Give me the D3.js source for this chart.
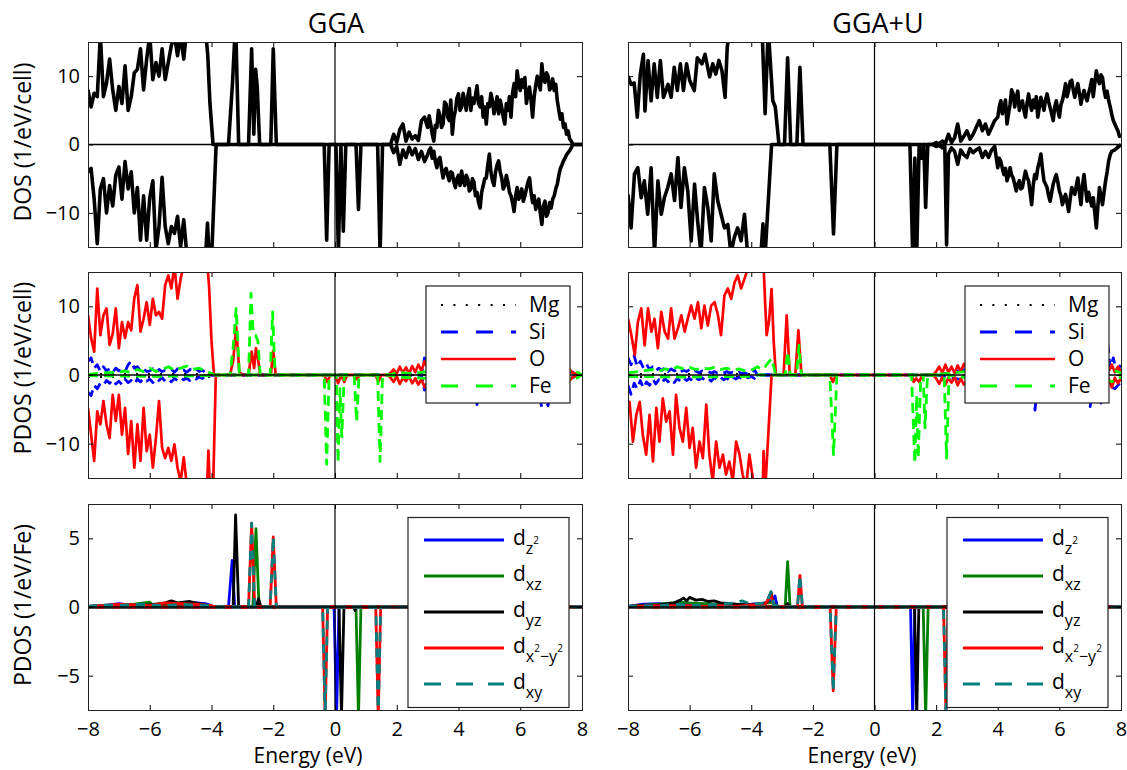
<!DOCTYPE html>
<html>
<head>
<meta charset="utf-8">
<script src="https://cdn.jsdelivr.net/npm/d3@7"></script>
<style>
body { margin: 0; background: #fff; }
text { font-family: "Open Sans", sans-serif; fill: #000; }
</style>
</head>
<body>
<svg id="chart" width="1127" height="770"></svg>
<script>
// ---- data: [energy (eV), density] ----

// total DOS, GGA
var gga_dos_up = [[-8.0,8],[-7.9,5.5],[-7.8,7.5],[-7.7,7],[-7.6,16],[-7.5,7],[-7.4,9],[-7.3,12.5],[-7.2,8],[-7.1,5],[-7.0,8.5],[-6.9,6],[-6.8,11.5],[-6.7,5],[-6.6,7],[-6.5,10.5],[-6.4,11],[-6.3,14],[-6.2,8],[-6.1,12.5],[-6.0,16],[-5.9,9.5],[-5.8,12],[-5.7,10],[-5.6,14],[-5.5,9.5],[-5.4,12],[-5.3,14.5],[-5.2,16],[-5.1,13],[-5.0,16],[-4.9,12.5],[-4.8,17],[-4.2,17],[-4.12,13],[-4.05,6],[-3.95,0],
  [-3.45,0],[-3.32,9],[-3.22,18],[-3.12,0],[-2.8,0],[-2.7,14],[-2.63,1.5],[-2.57,11],[-2.52,8.5],[-2.44,0],[-2.08,0],[-2.0,14],[-1.9,0],[1.8,0],
  [1.9,1.5],[2.0,0.3],[2.1,2.2],[2.2,3],[2.3,0.5],[2.4,1.8],[2.5,0.8],[2.6,1.3],[2.7,0.6],[2.8,3.5],[2.9,4],
  [3.0,2.5],[3.05,4.2],[3.1,3],[3.15,1.5],[3.2,0.5],[3.25,2.8],[3.3,2.5],[3.35,5],[3.4,4.2],[3.45,2.5],[3.5,3],[3.55,6.2],[3.6,5.9],[3.65,4],[3.7,3.5],[3.75,6.5],[3.8,1.5],[3.85,4],[3.9,5],[3.95,6.8],[4.0,7.4],[4.05,5],[4.1,5.5],[4.15,7.5],[4.2,6.4],[4.25,5],[4.3,7],[4.35,8.2],[4.4,5],[4.45,6.8],[4.5,6],[4.55,7.2],[4.6,8.6],[4.65,6],[4.7,5.5],[4.75,7],[4.8,4],[4.85,5.5],[4.9,3],[4.95,6],[5.0,5.5],[5.05,7.5],[5.1,6.4],[5.15,4.5],[5.2,5.5],[5.25,7],[5.3,4.5],[5.35,6.5],[5.4,5.4],[5.45,4],[5.5,3],[5.55,6],[5.6,5],[5.65,7],[5.7,4],[5.75,7.5],[5.8,8.9],[5.85,7],[5.9,10.8],[5.95,9],[6.0,7.9],[6.05,9.5],[6.1,8.4],[6.15,9.8],[6.2,6],[6.25,7.5],[6.3,8.4],[6.35,6.5],[6.4,4],[6.45,7],[6.5,8.6],[6.55,10],[6.6,9],[6.65,8],[6.7,11.8],[6.75,9.5],[6.8,9.1],[6.85,10.5],[6.9,10],[6.95,8],[7.0,8.4],[7.05,9.6],[7.1,7.9],[7.15,8.8],[7.2,6.4],[7.25,5],[7.3,3.7],[7.35,4.5],[7.4,2.5],[7.45,3],[7.5,1.5],[7.55,2],[7.6,0.8],[7.65,0.5],[7.7,0],[8.0,0]];
var gga_dos_dn = [[-8.0,-4],[-7.9,-3.5],[-7.8,-8],[-7.7,-14.5],[-7.6,-6.5],[-7.5,-5],[-7.4,-10],[-7.3,-6],[-7.2,-9],[-7.1,-4.5],[-7.0,-3.3],[-6.9,-8],[-6.8,-2.5],[-6.7,-6.5],[-6.6,-4],[-6.5,-10],[-6.4,-6.3],[-6.3,-14],[-6.2,-7.5],[-6.1,-14],[-6.0,-7.8],[-5.9,-5.3],[-5.8,-15.5],[-5.7,-12],[-5.6,-4.8],[-5.5,-12],[-5.4,-14.5],[-5.3,-12],[-5.2,-13],[-5.1,-10.5],[-5.0,-15],[-4.9,-11],[-4.8,-16],[-4.2,-17],[-4.13,-11.5],[-4.07,-17],[-4.0,-17],[-3.85,0],
  [-0.35,0],[-0.27,-14],[-0.19,0],[0.03,0],[0.11,-16],[0.19,0],[0.27,-12.7],[0.35,0],[0.68,0],[0.76,-9.5],[0.84,0],[1.38,0],[1.46,-16],[1.54,0],[1.8,0],
  [1.9,-1.2],[2.0,-0.3],[2.1,-2.9],[2.2,-0.8],[2.3,-1.9],[2.4,-0.4],[2.5,-1.5],[2.6,-0.6],[2.7,-2.2],[2.8,-1.0],[2.9,-2.5],
  [3.0,-1.5],[3.05,-0.8],[3.1,-0.5],[3.15,-2],[3.2,-1.0],[3.25,-2.5],[3.3,-3.4],[3.35,-2.2],[3.4,-1.9],[3.45,-3.5],[3.5,-4.9],[3.55,-3.8],[3.6,-3.5],[3.65,-4.5],[3.7,-5.3],[3.75,-4],[3.8,-4.2],[3.85,-5.5],[3.9,-6.3],[3.95,-5],[4.0,-4.5],[4.05,-6],[4.1,-3.9],[4.15,-5.2],[4.2,-6],[4.25,-4.5],[4.3,-5],[4.35,-6.8],[4.4,-6.5],[4.45,-5],[4.5,-5.5],[4.55,-7.5],[4.6,-7],[4.65,-8.5],[4.7,-9.3],[4.75,-7],[4.8,-6],[4.85,-5],[4.9,-4.9],[4.95,-3],[5.0,-1.4],[5.05,-4],[5.1,-5.3],[5.15,-6],[5.2,-4],[5.25,-3],[5.3,-2.4],[5.35,-4],[5.4,-4.9],[5.45,-6.5],[5.5,-6],[5.55,-4.5],[5.6,-5.5],[5.65,-7],[5.7,-7.5],[5.75,-8.5],[5.8,-9.8],[5.85,-7.5],[5.9,-6.3],[5.95,-8],[6.0,-7.5],[6.05,-6.5],[6.1,-8.3],[6.15,-7.5],[6.2,-6.5],[6.25,-5.5],[6.3,-4.9],[6.35,-7],[6.4,-8.5],[6.45,-7.5],[6.5,-9.5],[6.55,-8.5],[6.6,-8],[6.65,-10],[6.7,-11.7],[6.75,-9],[6.8,-8.3],[6.85,-10.5],[6.9,-10],[6.95,-8.5],[7.0,-9.3],[7.05,-8],[7.1,-7.5],[7.15,-6.5],[7.2,-5.8],[7.25,-4.5],[7.3,-3.5],[7.35,-3],[7.4,-2.4],[7.45,-2],[7.5,-1.5],[7.55,-1.2],[7.6,-0.9],[7.65,-0.5],[7.7,0],[8.0,0]];

// total DOS, GGA+U
var ggau_dos_up = [[-8.0,10],[-7.9,8.8],[-7.8,9],[-7.7,4],[-7.6,10.3],[-7.5,13.2],[-7.45,4.9],[-7.35,12.3],[-7.25,6.4],[-7.15,11.8],[-7.05,6.9],[-6.95,12.3],[-6.85,6.9],[-6.7,8.8],[-6.6,6.9],[-6.5,11.3],[-6.4,7.9],[-6.3,11.8],[-6.2,7.9],[-6.1,11.8],[-6.0,9.4],[-5.85,7.9],[-5.75,12.7],[-5.6,11.8],[-5.5,13.2],[-5.35,9.9],[-5.25,11.8],[-5.15,10.3],[-5.05,12.3],[-4.95,10.8],[-4.85,6.9],[-4.78,14.2],[-4.7,17],[-3.65,17],[-3.55,4.5],[-3.45,17],[-3.3,6.4],[-3.22,5.5],[-3.1,0],[-2.92,0],[-2.82,12.7],[-2.72,0],[-2.52,0],[-2.42,11.3],[-2.32,0],[1.9,0],
  [2.0,0.3],[2.1,0.1],[2.2,0.5],[2.3,0.2],[2.4,1.5],[2.5,0.3],[2.6,1],[2.7,3],[2.8,0.5],[2.9,1.2],[3.0,2],[3.1,0.8],[3.2,1.5],[3.3,2.5],[3.4,3.5],[3.5,2],[3.6,3],[3.7,1.5],[3.8,2.5],[3.9,3.5],
  [4.0,4],[4.05,5.5],[4.1,6.4],[4.15,4.5],[4.2,5.4],[4.25,6.5],[4.3,3],[4.35,4.5],[4.4,5.9],[4.45,8],[4.5,7.4],[4.55,5.5],[4.6,6.9],[4.65,7.8],[4.7,5],[4.75,6],[4.8,6.4],[4.85,5],[4.9,4],[4.95,6],[5.0,7.4],[5.05,6],[5.1,5],[5.15,6.5],[5.2,5.4],[5.25,7],[5.3,4],[5.35,5.5],[5.4,6.9],[5.45,6],[5.5,5],[5.55,6.5],[5.6,7.4],[5.65,6.3],[5.7,5.4],[5.75,4.5],[5.8,3.5],[5.85,5.5],[5.9,6.4],[5.95,5],[6.0,4],[6.05,5.8],[6.1,6.5],[6.15,7.5],[6.2,8.9],[6.25,7],[6.3,7.9],[6.35,9.2],[6.4,9.4],[6.45,8],[6.5,6.9],[6.55,8],[6.6,8.9],[6.65,7.5],[6.7,5.9],[6.75,7],[6.8,7.9],[6.85,7],[6.9,6.4],[6.95,7.5],[7.0,8.4],[7.05,9.5],[7.1,7],[7.15,9],[7.2,10.8],[7.25,9.5],[7.3,8.9],[7.35,10.2],[7.4,9.8],[7.45,8],[7.5,6.9],[7.55,7.8],[7.6,6.4],[7.65,5.5],[7.7,4.4],[7.75,3.5],[7.8,3],[7.85,2.5],[7.9,2],[7.95,1.2],[8.0,1.5]];
var ggau_dos_dn = [[-8.0,-7.3],[-7.9,-12.2],[-7.79,-4.3],[-7.68,-3.4],[-7.57,-7.8],[-7.47,-5.3],[-7.36,-10.2],[-7.25,-3.4],[-7.14,-16],[-7.03,-5.3],[-6.92,-10.2],[-6.82,-7.8],[-6.71,-6.3],[-6.6,-4.3],[-6.49,-8.2],[-6.38,-1.9],[-6.28,-9.2],[-6.17,-3.4],[-6.06,-6.8],[-5.95,-14.1],[-5.84,-5.8],[-5.74,-11.2],[-5.63,-16],[-5.52,-6.3],[-5.41,-9.2],[-5.3,-14.1],[-5.2,-4.3],[-5.09,-8.2],[-4.98,-10.2],[-4.87,-12.2],[-4.76,-11.7],[-4.66,-16],[-4.55,-13.6],[-4.44,-12.2],[-4.33,-14.1],[-4.22,-10.2],[-4.12,-16],[-3.7,-17],[-3.62,-11.6],[-3.56,-17],[-3.34,0],
  [-1.45,0],[-1.33,-13.1],[-1.22,0],[1.15,0],[1.24,-16],[1.31,-2],[1.37,-16],[1.45,0],[1.53,-2],[1.6,0],[1.66,-9.2],[1.73,0],[1.9,0],
  [2.0,-0.3],[2.1,-0.1],[2.2,-0.5],[2.28,0],[2.34,-14.7],[2.4,-1.4],[2.5,-0.5],[2.6,-1],[2.7,-2.9],[2.8,-0.8],[2.9,-1.5],[3.0,-1.9],[3.1,-0.6],[3.2,-1.2],[3.3,-0.8],[3.4,-0.5],[3.5,-1.9],[3.6,-1],[3.7,-1.9],[3.8,-0.8],[3.9,-0.3],
  [4.0,-3.4],[4.05,-2],[4.1,-2.5],[4.15,-3.5],[4.2,-4.4],[4.25,-3.5],[4.3,-5.3],[4.35,-4.5],[4.4,-3.4],[4.45,-4.5],[4.5,-4.9],[4.55,-5.8],[4.6,-6.8],[4.65,-5.8],[4.7,-5.3],[4.75,-6.5],[4.8,-6.3],[4.85,-5],[4.9,-3.9],[4.95,-4.8],[5.0,-5.3],[5.05,-7],[5.1,-8.8],[5.15,-6],[5.2,-4.4],[5.25,-5],[5.3,-3.4],[5.35,-2.5],[5.4,-1.4],[5.45,-3.5],[5.5,-5.3],[5.55,-5.8],[5.6,-6.3],[5.65,-7.5],[5.7,-8.3],[5.75,-7],[5.8,-5.8],[5.85,-5],[5.9,-4.4],[5.95,-5.5],[6.0,-6.8],[6.05,-7.5],[6.1,-8.8],[6.15,-8],[6.2,-7.3],[6.25,-8.5],[6.3,-9.8],[6.35,-8],[6.4,-6.3],[6.45,-6.8],[6.5,-7.3],[6.55,-6],[6.6,-4.9],[6.65,-7],[6.7,-8.8],[6.75,-6],[6.8,-4.4],[6.85,-6.5],[6.9,-8.3],[6.95,-7],[7.0,-8],[7.05,-9],[7.1,-7.8],[7.15,-10],[7.2,-12.2],[7.25,-9],[7.3,-6.3],[7.35,-7.5],[7.4,-8.8],[7.45,-7],[7.5,-5.3],[7.55,-4],[7.6,-2.4],[7.65,-1.5],[7.7,-1],[7.8,-0.8],[8.0,0]];

// atom-projected DOS, GGA
var gga_mg_up = [[-8,0.15],[-4,0.15],[-3.9,0],[8,0]];
var gga_mg_dn = [[-8,-0.3],[-4,-0.3],[-3.9,0],[8,0]];
var gga_si_up = [[-8.0,2],[-7.9,2.5],[-7.8,1],[-7.7,1.5],[-7.6,0.5],[-7.5,1.2],[-7.4,0.6],[-7.3,0.9],[-7.2,0.4],[-7.1,1.0],[-7.0,0.6],[-6.9,0.8],[-6.8,0.5],[-6.7,1.5],[-6.6,2.0],[-6.5,1.0],[-6.4,1.2],[-6.3,0.6],[-6.2,0.9],[-6.1,0.5],[-6.0,0.6],[-5.9,0.9],[-5.8,0.4],[-5.7,0.8],[-5.6,0.5],[-5.5,0.7],[-5.4,0.6],[-5.3,0.8],[-5.2,0.4],[-5.1,0.9],[-5.0,0.5],[-4.9,0.7],[-4.8,0.4],[-4.7,0.8],[-4.6,0.6],[-4.5,0.9],[-4.4,0.5],[-4.3,0.7],[-4.2,0.4],[-4.1,0.2],[-4.0,0],[2.8,0],[2.9,2.5],[3.0,0.5],[3.5,1.5],[4.0,0.8],[4.5,1.2],[5.0,1.5],[5.5,0.8],[6.0,1.2],[6.5,1.5],[7.0,1],[7.6,0.5],[8.0,0]];
var gga_si_dn = [[-8.0,-2.5],[-7.9,-3],[-7.8,-1.5],[-7.7,-2],[-7.6,-1.2],[-7.5,-1.5],[-7.4,-0.8],[-7.3,-1.2],[-7.2,-0.7],[-7.1,-1.3],[-7.0,-0.9],[-6.9,-1.4],[-6.8,-0.6],[-6.7,-1.1],[-6.6,-0.8],[-6.5,-1.3],[-6.4,-0.6],[-6.3,-1.0],[-6.2,-0.5],[-6.1,-0.9],[-6.0,-0.6],[-5.9,-1.1],[-5.8,-0.5],[-5.7,-0.8],[-5.6,-0.4],[-5.5,-0.9],[-5.4,-0.6],[-5.3,-1.0],[-5.2,-0.5],[-5.1,-0.8],[-5.0,-0.4],[-4.9,-0.7],[-4.8,-0.5],[-4.7,-0.8],[-4.6,-0.4],[-4.5,-0.6],[-4.4,-0.3],[-4.3,-0.5],[-4.2,-0.3],[-4.1,-0.1],[-4.0,0],[2.8,0],[2.9,-2.2],[3.0,-0.5],[3.5,-1.5],[4.0,-1],[4.5,-1],[4.6,-4.3],[4.7,-1],[5.0,-1.5],[5.5,-1],[6.0,-1.5],[6.5,-2],[6.6,-2.5],[6.7,-4.8],[6.8,-3],[6.9,-4.5],[7.0,-1],[7.5,-0.5],[8.0,0]];
var gga_o_up = [[-8.0,8.7],[-7.9,5.4],[-7.8,3.4],[-7.7,12.6],[-7.6,5.8],[-7.5,8.7],[-7.4,9.7],[-7.3,4.4],[-7.2,6],[-7.1,9.7],[-7.0,3.9],[-6.9,7.7],[-6.8,5.4],[-6.7,7.7],[-6.6,6.5],[-6.5,11.2],[-6.4,13.1],[-6.3,6.3],[-6.2,8.2],[-6.1,10.6],[-6.0,7.3],[-5.9,11.1],[-5.8,8.7],[-5.7,9.2],[-5.6,8.2],[-5.5,13.1],[-5.4,14.5],[-5.3,12.6],[-5.2,16],[-5.1,11.1],[-5.0,14],[-4.9,16],[-4.8,17],[-4.15,17],[-4.08,13],[-4.0,5],[-3.92,0],
  [-3.4,0],[-3.3,2],[-3.2,7],[-3.1,0.5],[-3.0,0],[-2.8,0],[-2.7,3.4],[-2.62,1],[-2.56,3.9],[-2.5,2.5],[-2.42,0],[-2.08,0],[-2.0,3.5],[-1.92,0],[1.7,0],
  [1.8,0.3],[1.9,0.8],[2.0,0.2],[2.1,1.2],[2.2,0.3],[2.3,1.1],[2.4,0.2],[2.5,1.3],[2.6,0.4],[2.7,1.5],[2.8,0.6],[2.9,2],[3.0,1],[3.2,1.8],[3.4,0.8],[3.6,2],[3.8,1],[4.0,2.2],[4.5,1.5],[5.0,2],[5.5,1.2],[6.0,2],[6.5,1.5],[7.0,2],[7.3,1.2],[7.5,1.5],[7.6,0.8],[7.7,0.3],[8.0,0]];
var gga_o_dn = [[-8.0,-4.8],[-7.9,-8.6],[-7.8,-12.5],[-7.7,-5.3],[-7.6,-7.2],[-7.5,-3.8],[-7.4,-7.2],[-7.3,-9.2],[-7.2,-2.9],[-7.1,-6.7],[-7.0,-2.9],[-6.9,-8.7],[-6.8,-4.8],[-6.7,-11.5],[-6.6,-6.7],[-6.5,-13.5],[-6.4,-7.2],[-6.3,-12.5],[-6.2,-4.8],[-6.1,-11.1],[-6.0,-8.7],[-5.9,-13.5],[-5.8,-9.2],[-5.7,-3.8],[-5.6,-10.6],[-5.5,-12.1],[-5.4,-10.6],[-5.3,-12.5],[-5.2,-10.1],[-5.1,-13.5],[-5.0,-15.5],[-4.9,-12],[-4.8,-16],[-4.15,-17],[-4.1,-11],[-4.05,-17],[-3.95,-17],[-3.86,0],
  [-0.35,0],[-0.25,-1],[-0.15,0],[0.02,0],[0.1,-1.2],[0.2,0],[0.3,-1],[0.4,0],[0.62,0],[0.7,-0.6],[0.8,0],[1.32,0],[1.4,-1],[1.5,0],[1.7,0],
  [1.8,-0.4],[1.9,-1],[2.0,-0.2],[2.1,-1.3],[2.2,-0.4],[2.3,-0.9],[2.4,-0.2],[2.5,-1.2],[2.6,-0.5],[2.7,-1.4],[2.8,-0.6],[2.9,-1.8],[3.0,-1],[3.2,-1.8],[3.4,-0.8],[3.6,-2],[3.8,-1],[4.0,-2.2],[4.5,-1.5],[5.0,-2],[5.5,-1.2],[6.0,-2],[6.5,-1.5],[7.0,-2],[7.3,-1.2],[7.5,-1.5],[7.6,-0.8],[7.7,-0.3],[8.0,0]];
var gga_fe_up = [[-8.0,0.1],[-7.5,0.3],[-7.0,0.4],[-6.8,0.6],[-6.6,0.3],[-6.4,0.8],[-6.2,0.5],[-6.0,1.0],[-5.8,0.5],[-5.6,0.8],[-5.4,1.2],[-5.2,0.7],[-5.0,1.0],[-4.8,1.3],[-4.6,0.8],[-4.4,1.0],[-4.2,0.6],[-4.0,0.2],[-3.9,0],[-3.4,0],[-3.3,4],[-3.2,9.7],[-3.1,0.5],[-3.0,0],[-2.8,0],[-2.72,11.9],[-2.65,6],[-2.58,5.8],[-2.5,5],[-2.42,0],[-2.1,0],[-2.02,9.2],[-1.94,0],[1.8,0],[2.0,0.4],[2.5,0.2],[3.0,0.5],[7.5,0.5],[7.7,0.8],[8.0,0]];
var gga_fe_dn = [[-8.0,-0.1],[-6.0,-0.2],[-4.0,-0.1],[-3.9,0],[-0.35,0],[-0.27,-13],[-0.19,0],[0.04,0],[0.1,-12.8],[0.16,-2],[0.22,-9],[0.3,0],[0.62,0],[0.7,-6.8],[0.78,0],[1.38,0],[1.46,-12.6],[1.54,0],[1.8,0],[2.0,-0.3],[3.0,-0.5],[7.5,-0.4],[7.7,-0.8],[8.0,0]];

// atom-projected DOS, GGA+U
var ggau_mg_up = [[-8,0.15],[-3.8,0.15],[-3.7,0],[8,0]];
var ggau_mg_dn = [[-8,-0.3],[-3.8,-0.3],[-3.7,0],[8,0]];
var ggau_si_up = [[-8.0,2.5],[-7.9,1.5],[-7.8,2.8],[-7.7,1.2],[-7.6,2.0],[-7.5,1.0],[-7.4,1.6],[-7.3,0.8],[-7.2,1.2],[-7.1,0.6],[-7.0,1.0],[-6.9,0.7],[-6.8,1.1],[-6.7,0.5],[-6.6,0.9],[-6.5,0.6],[-6.4,0.8],[-6.3,0.4],[-6.2,0.7],[-6.1,0.5],[-6.0,0.8],[-5.9,0.4],[-5.8,0.6],[-5.7,0.3],[-5.6,0.6],[-5.5,0.4],[-5.4,0.5],[-5.3,0.3],[-5.2,0.5],[-5.1,0.3],[-5.0,0.4],[-4.9,0.3],[-4.8,0.5],[-4.7,0.3],[-4.6,0.4],[-4.5,0.2],[-4.4,0.4],[-4.3,0.2],[-4.2,0.3],[-4.1,0.1],[-4.0,0.2],[-3.9,0.8],[-3.8,0],[2.0,0],[2.5,0.4],[3.0,0.8],[4.0,1],[5.0,1.2],[6.0,1],[7.0,1.2],[7.4,0.5],[7.5,2],[7.57,4.6],[7.65,1],[7.75,2.5],[7.85,0.5],[8.0,1.5]];
var ggau_si_dn = [[-8.0,-1.5],[-7.9,-2.8],[-7.8,-1.2],[-7.7,-2.0],[-7.6,-0.8],[-7.5,-1.9],[-7.4,-1.0],[-7.3,-1.5],[-7.2,-0.6],[-7.1,-1.3],[-7.0,-0.7],[-6.9,-1.2],[-6.8,-0.5],[-6.7,-1.0],[-6.6,-0.6],[-6.5,-1.1],[-6.4,-0.5],[-6.3,-0.9],[-6.2,-0.4],[-6.1,-0.8],[-6.0,-0.5],[-5.9,-0.9],[-5.8,-0.4],[-5.7,-0.7],[-5.6,-0.4],[-5.5,-0.8],[-5.4,-0.5],[-5.3,-0.9],[-5.2,-0.4],[-5.1,-0.7],[-5.0,-0.3],[-4.9,-0.7],[-4.8,-0.4],[-4.7,-0.8],[-4.6,-0.3],[-4.5,-0.6],[-4.4,-0.3],[-4.3,-0.5],[-4.2,-0.2],[-4.1,-0.4],[-4.0,-0.2],[-3.9,-0.5],[-3.8,0],[2.0,0],[3.0,-0.8],[4.0,-1],[5.0,-1.2],[5.1,-0.5],[5.21,-5.1],[5.3,-0.5],[6.0,-1],[6.9,-0.5],[7.0,-4.6],[7.1,-1],[7.25,-2],[7.35,-4.1],[7.45,-1],[7.6,-1.5],[7.8,-2],[8.0,-1]];
var ggau_o_up = [[-8.0,8.2],[-7.89,5.8],[-7.78,2.9],[-7.68,7.7],[-7.57,9.7],[-7.46,4.3],[-7.35,9.7],[-7.24,6.3],[-7.14,8.2],[-7.03,3.9],[-6.92,9.2],[-6.81,6.3],[-6.7,5.3],[-6.6,9.7],[-6.49,5.3],[-6.38,6.8],[-6.27,8.7],[-6.16,6.3],[-6.06,8.2],[-5.95,10.1],[-5.84,8.2],[-5.73,10.6],[-5.62,6.8],[-5.52,10.1],[-5.41,7.2],[-5.3,10.1],[-5.19,10.6],[-5.08,8.7],[-4.98,5.8],[-4.87,11.6],[-4.76,12.6],[-4.65,11.1],[-4.54,13.5],[-4.44,14.5],[-4.33,12.6],[-4.22,14],[-4.11,15.5],[-4.0,17],[-3.65,17],[-3.6,16],[-3.55,10.6],[-3.5,5.8],[-3.42,8],[-3.34,12.5],[-3.27,4.8],[-3.2,0],[-2.95,0],[-2.85,8.7],[-2.75,0],[-2.57,0],[-2.47,6.5],[-2.37,0],[1.9,0],
  [2.0,0.5],[2.1,1.2],[2.2,0.3],[2.3,1.5],[2.4,0.4],[2.5,1.2],[2.6,0.3],[2.7,1.4],[2.8,0.5],[2.9,1.6],[3.0,0.8],[3.5,1.5],[4.0,1],[4.5,1.8],[5.0,1.2],[5.5,2],[6.0,1.3],[6.5,1.8],[7.0,1.2],[7.5,1.5],[7.6,0.5],[7.7,1.5],[7.8,0.4],[7.9,1.2],[8.0,0.5]];
var ggau_o_dn = [[-8.0,-5],[-7.95,-3.9],[-7.84,-9.7],[-7.73,-5.8],[-7.62,-3.9],[-7.52,-8.7],[-7.41,-11.6],[-7.3,-5.8],[-7.19,-12.6],[-7.08,-4.8],[-6.98,-9.7],[-6.87,-3.4],[-6.76,-6.8],[-6.65,-5.3],[-6.54,-11.6],[-6.44,-2.9],[-6.33,-7.7],[-6.22,-9.7],[-6.11,-4.8],[-6.0,-10.6],[-5.9,-7.7],[-5.79,-13.5],[-5.68,-9.7],[-5.57,-12.1],[-5.46,-4.3],[-5.36,-11.6],[-5.25,-15.5],[-5.14,-9.7],[-5.03,-13.5],[-4.92,-11.6],[-4.82,-14.5],[-4.71,-12.6],[-4.6,-15.5],[-4.49,-9.7],[-4.38,-11.6],[-4.28,-14.5],[-4.17,-16.4],[-4.06,-11.6],[-3.95,-15],[-3.9,-17],[-3.63,-17],[-3.6,-11.1],[-3.55,-17],[-3.34,0],
  [-1.45,0],[-1.35,-1],[-1.25,0],[1.2,0],[1.27,-1],[1.35,-0.5],[1.45,-1],[1.55,0],[1.9,0],
  [2.0,-0.5],[2.1,-1.3],[2.2,-0.3],[2.3,-1.4],[2.4,-0.4],[2.5,-1.1],[2.6,-0.3],[2.7,-1.5],[2.8,-0.5],[2.9,-1.4],[3.0,-0.8],[3.5,-1.5],[4.0,-1],[4.5,-1.8],[5.0,-1.2],[5.5,-2],[6.0,-1.3],[6.5,-1.8],[7.0,-1.2],[7.5,-1.5],[7.6,-0.5],[7.7,-1.8],[7.8,-0.4],[7.9,-1.2],[8.0,-0.5]];
var ggau_fe_up = [[-8.0,0.3],[-7.5,0.6],[-7.2,0.8],[-7.0,0.5],[-6.8,0.9],[-6.6,0.7],[-6.4,1.2],[-6.2,0.9],[-6.0,1.1],[-5.8,0.8],[-5.6,1.0],[-5.4,0.9],[-5.2,1.1],[-5.0,0.8],[-4.8,1.0],[-4.6,0.7],[-4.4,0.9],[-4.2,0.6],[-4.0,0.7],[-3.8,1.2],[-3.65,0.8],[-3.55,1.2],[-3.45,1.8],[-3.34,2.4],[-3.2,0],[-2.9,0],[-2.82,3.4],[-2.73,0],[-2.53,0],[-2.45,4.3],[-2.37,0],[1.9,0],[2.5,0.3],[3.0,0.5],[7.5,0.4],[7.7,0.8],[8.0,0.3]];
var ggau_fe_dn = [[-8.0,-0.2],[-6.0,-0.3],[-4.0,-0.2],[-3.8,0],[-1.45,0],[-1.33,-11.6],[-1.22,0],[1.2,0],[1.31,-12.8],[1.37,-3],[1.42,-12.1],[1.5,0],[1.58,0],[1.64,-7.7],[1.72,0],[2.26,0],[2.34,-12.1],[2.42,0],[3.0,-0.4],[7.5,-0.5],[7.7,-1],[8.0,-0.3]];

// Fe d-orbital DOS, GGA
var gga_dz2_up = [[-8,0.05],[-7.5,0.1],[-7.0,0.25],[-6.5,0.1],[-6.0,0.2],[-5.5,0.15],[-5.0,0.25],[-4.5,0.3],[-4.2,0.25],[-4.0,0.1],[-3.9,0],[-3.45,0],[-3.33,3.4],[-3.25,0],[8,0]];
var gga_dxz_up = [[-8,0.05],[-7.0,0.1],[-6.5,0.2],[-6.0,0.35],[-5.9,0.1],[-5.5,0.2],[-5.0,0.15],[-4.5,0.1],[-4.0,0.05],[-3.9,0],[-2.66,0],[-2.56,5.7],[-2.46,0],[8,0]];
var gga_dyz_up = [[-8,0.05],[-7,0.1],[-6,0.15],[-5.5,0.3],[-5.3,0.45],[-5.1,0.3],[-4.9,0.35],[-4.7,0.4],[-4.3,0.2],[-4.0,0.05],[-3.9,0],[-3.3,0],[-3.22,6.7],[-3.12,0],[-2.55,0],[-2.48,0.6],[-2.4,0],[8,0]];
var gga_dx2_up = [[-8,0.05],[-7.5,0.1],[-7,0.2],[-6.5,0.15],[-6,0.1],[-5.5,0.3],[-5,0.25],[-4.5,0.2],[-4,0.1],[-3.9,0],[-2.8,0],[-2.7,6.1],[-2.6,0],[-2.1,0],[-2.0,5.1],[-1.9,0],[8,0]];
var gga_dxy_up = [[-8,0.05],[-7.5,0.15],[-7,0.1],[-6.5,0.2],[-6,0.15],[-5.5,0.1],[-5,0.2],[-4.5,0.15],[-4,0.1],[-3.9,0],[-2.8,0],[-2.7,6.1],[-2.6,0],[-2.1,0],[-2.0,5.1],[-1.9,0],[8,0]];
var gga_dz2_dn = [[-8,0],[-0.03,0],[0.05,-8],[0.13,0],[8,0]];
var gga_dxz_dn = [[-8,0],[0.68,0],[0.76,-8],[0.84,0],[8,0]];
var gga_dyz_dn = [[-8,0],[0.13,0],[0.21,-8],[0.29,0],[0.6,0],[0.65,-0.25],[0.7,0],[8,0]];
var gga_dx2_dn = [[-8,0],[-0.4,0],[-0.32,-8],[-0.24,0],[1.32,0],[1.4,-8],[1.48,0],[8,0]];
var gga_dxy_dn = [[-8,0],[-0.4,0],[-0.32,-8],[-0.24,0],[1.32,0],[1.4,-8],[1.48,0],[8,0]];

// Fe d-orbital DOS, GGA+U
var ggau_dz2_up = [[-8,0.05],[-7.5,0.2],[-7.0,0.25],[-6.5,0.15],[-6.0,0.2],[-5.5,0.15],[-5.0,0.1],[-4.5,0.15],[-4.0,0.2],[-3.5,0.3],[-3.3,0.5],[-3.23,0.8],[-3.15,0],[8,0]];
var ggau_dxz_up = [[-8,0.05],[-7.0,0.2],[-6.3,0.35],[-6.0,0.3],[-5.5,0.25],[-5,0.15],[-4.5,0.2],[-4,0.1],[-3.5,0.3],[-3.3,0.3],[-3.1,0],[-2.9,0],[-2.82,3.3],[-2.74,0],[8,0]];
var ggau_dyz_up = [[-8,0.05],[-7,0.15],[-6.5,0.3],[-6.3,0.5],[-6.2,0.65],[-6.1,0.45],[-6.0,0.7],[-5.8,0.5],[-5.6,0.55],[-5.4,0.4],[-5.2,0.45],[-5.0,0.3],[-4.5,0.2],[-4.0,0.15],[-3.5,0.3],[-3.36,1.1],[-3.28,0.2],[-3.1,0],[-2.9,0],[-2.82,0.25],[-2.75,0],[8,0]];
var ggau_dx2_up = [[-8,0.05],[-7,0.1],[-6,0.1],[-5.5,0.05],[-5,0.1],[-4.5,0.05],[-4,0.15],[-3.6,0.1],[-3.45,0.5],[-3.36,0.9],[-3.28,0.2],[-3.1,0],[-2.5,0],[-2.42,2.3],[-2.34,0],[8,0]];
var ggau_dxy_up = [[-8,0.05],[-7,0.1],[-6.5,0.2],[-6,0.1],[-5.5,0.15],[-5,0.2],[-4.5,0.3],[-4.3,0.45],[-4,0.2],[-3.5,0.3],[-3.36,1.1],[-3.28,0.2],[-3.1,0],[-2.5,0],[-2.42,2.3],[-2.34,0],[8,0]];
var ggau_dz2_dn = [[-8,0],[1.17,0],[1.24,-8],[1.31,0],[8,0]];
var ggau_dxz_dn = [[-8,0],[1.58,0],[1.66,-8],[1.74,0],[8,0]];
var ggau_dyz_dn = [[-8,0],[1.3,0],[1.37,-8],[1.44,0],[8,0]];
var ggau_dx2_dn = [[-8,0],[-1.44,0],[-1.34,-6.1],[-1.24,0],[2.24,0],[2.32,-8],[2.4,0],[8,0]];
var ggau_dxy_dn = [[-8,0],[-1.44,0],[-1.34,-6.1],[-1.24,0],[2.24,0],[2.32,-8],[2.4,0],[8,0]];

// axis ticks and text
var x_ticks = [-8, -6, -4, -2, 0, 2, 4, 6, 8];
var y_ticks_cell = [-10, 0, 10];
var y_ticks_fe = [-5, 0, 5];
var col_titles = ["GGA", "GGA+U"];
var row_titles = ["DOS (1/eV/cell)", "PDOS (1/eV/cell)", "PDOS (1/eV/Fe)"];
var atom_labels = ["Mg", "Si", "O", "Fe"];
// d-orbital labels: b = base, s = subscript, p = small superscript
var orbital_labels = [
	[["d","b"],["z","s"],["2","p"]],
	[["d","b"],["xz","s"]],
	[["d","b"],["yz","s"]],
	[["d","b"],["x","s"],["2","p"],["\u2212y","s"],["2","p"]],
	[["d","b"],["xy","s"]]
];

// ---- layout ----
var svg = d3.select("#chart");
var cols = [{x0: 88, x1: 582}, {x0: 628, x1: 1121}];
var rows = [
	{y0: 42, y1: 247, dom: [-15, 15], ticks: y_ticks_cell},
	{y0: 272, y1: 478, dom: [-15, 15], ticks: y_ticks_cell},
	{y0: 504, y1: 710, dom: [-7.5, 7.5], ticks: y_ticks_fe}
];

var st_dos = {color: "#000", width: 3.6};
var st_mg = {color: "#000", width: 2, dash: "2,10"};
var st_si = {color: "#0000ff", width: 2.8, dash: "10,6"};
var st_o = {color: "#ff0000", width: 2.7};
var st_fe = {color: "#00ff00", width: 2.8, dash: "10,6"};
var st_dz2 = {color: "#0000ff", width: 2.8};
var st_dxz = {color: "#008000", width: 2.8};
var st_dyz = {color: "#000", width: 2.8};
var st_dx2 = {color: "#ff0000", width: 2.8};
var st_dxy = {color: "#008080", width: 2.8, dash: "9,7"};

var panels = [
	{c: 0, r: 0, series: [[gga_dos_up, st_dos], [gga_dos_dn, st_dos]]},
	{c: 1, r: 0, series: [[ggau_dos_up, st_dos], [ggau_dos_dn, st_dos]]},
	{c: 0, r: 1, legend: "atom", series: [[gga_mg_up, st_mg], [gga_mg_dn, st_mg], [gga_si_up, st_si], [gga_si_dn, st_si], [gga_o_up, st_o], [gga_o_dn, st_o], [gga_fe_up, st_fe], [gga_fe_dn, st_fe]]},
	{c: 1, r: 1, legend: "atom", series: [[ggau_mg_up, st_mg], [ggau_mg_dn, st_mg], [ggau_si_up, st_si], [ggau_si_dn, st_si], [ggau_o_up, st_o], [ggau_o_dn, st_o], [ggau_fe_up, st_fe], [ggau_fe_dn, st_fe]]},
	{c: 0, r: 2, legend: "orb", series: [[gga_dz2_up, st_dz2], [gga_dz2_dn, st_dz2], [gga_dxz_up, st_dxz], [gga_dxz_dn, st_dxz], [gga_dyz_up, st_dyz], [gga_dyz_dn, st_dyz], [gga_dx2_up, st_dx2], [gga_dx2_dn, st_dx2], [gga_dxy_up, st_dxy], [gga_dxy_dn, st_dxy]]},
	{c: 1, r: 2, legend: "orb", series: [[ggau_dz2_up, st_dz2], [ggau_dz2_dn, st_dz2], [ggau_dxz_up, st_dxz], [ggau_dxz_dn, st_dxz], [ggau_dyz_up, st_dyz], [ggau_dyz_dn, st_dyz], [ggau_dx2_up, st_dx2], [ggau_dx2_dn, st_dx2], [ggau_dxy_up, st_dxy], [ggau_dxy_dn, st_dxy]]}
];

function axisFont(g) {
	g.attr("font-family", '"Open Sans", sans-serif').attr("font-size", 20);
	g.select(".domain").remove();
	g.selectAll(".tick line").attr("stroke", "#000");
}

panels.forEach(function(p, i) {
	var c = cols[p.c], r = rows[p.r];
	var x = d3.scaleLinear().domain([-8, 8]).range([c.x0, c.x1]);
	var y = d3.scaleLinear().domain(r.dom).range([r.y1, r.y0]);

	svg.append("clipPath").attr("id", "clip" + i)
		.append("rect")
		.attr("x", c.x0).attr("y", r.y0)
		.attr("width", c.x1 - c.x0).attr("height", r.y1 - r.y0);

	var plot = svg.append("g").attr("clip-path", "url(#clip" + i + ")");
	var line = d3.line().x(function(d) { return x(d[0]); }).y(function(d) { return y(d[1]); });

	p.series.forEach(function(s) {
		plot.append("path")
			.datum(s[0])
			.attr("d", line)
			.attr("fill", "none")
			.attr("stroke", s[1].color)
			.attr("stroke-width", s[1].width)
			.attr("stroke-linejoin", "round")
			.attr("stroke-dasharray", s[1].dash || null);
	});

	// zero lines
	plot.append("line")
		.attr("x1", c.x0).attr("x2", c.x1)
		.attr("y1", y(0)).attr("y2", y(0))
		.attr("stroke", "#000").attr("stroke-width", 1.3);
	plot.append("line")
		.attr("x1", x(0)).attr("x2", x(0))
		.attr("y1", r.y0).attr("y2", r.y1)
		.attr("stroke", "#000").attr("stroke-width", 1.2);

	// axes, ticks inside on all four sides
	svg.append("g").attr("transform", "translate(0," + r.y1 + ")")
		.call(d3.axisBottom(x).tickValues(x_ticks).tickSizeInner(-5).tickSizeOuter(0).tickPadding(12)
			.tickFormat(p.r === 2 ? null : function() { return ""; }))
		.call(axisFont);
	svg.append("g").attr("transform", "translate(0," + r.y0 + ")")
		.call(d3.axisTop(x).tickValues(x_ticks).tickSizeInner(-5).tickSizeOuter(0).tickFormat(function() { return ""; }))
		.call(axisFont);
	svg.append("g").attr("transform", "translate(" + c.x0 + ",0)")
		.call(d3.axisLeft(y).tickValues(r.ticks).tickSizeInner(-5).tickSizeOuter(0).tickPadding(8)
			.tickFormat(p.c === 0 ? null : function() { return ""; }))
		.call(axisFont);
	svg.append("g").attr("transform", "translate(" + c.x1 + ",0)")
		.call(d3.axisRight(y).tickValues(r.ticks).tickSizeInner(-5).tickSizeOuter(0).tickFormat(function() { return ""; }))
		.call(axisFont);

	svg.append("rect")
		.attr("x", c.x0 + 0.5).attr("y", r.y0 + 0.5)
		.attr("width", c.x1 - c.x0).attr("height", r.y1 - r.y0)
		.attr("fill", "none").attr("stroke", "#222").attr("stroke-width", 1);

	// legends
	if (p.legend === "atom") {
		var lx = c.x1 - 156, ly = r.y0 + 14;
		var lg = svg.append("g");
		lg.append("rect").attr("x", lx).attr("y", ly).attr("width", 144).attr("height", 117)
			.attr("fill", "#fff").attr("stroke", "#222").attr("stroke-width", 1.2);
		var ast = [st_mg, st_si, st_o, st_fe];
		var adash = ["2,10.4", "17,18", null, "17,18"];
		atom_labels.forEach(function(lab, k) {
			var yy = ly + 19 + k * 27;
			lg.append("line").attr("x1", lx + 15).attr("x2", lx + 90).attr("y1", yy).attr("y2", yy)
				.attr("stroke", ast[k].color).attr("stroke-width", ast[k].width)
				.attr("stroke-dasharray", adash[k]);
			lg.append("text").attr("x", lx + 103).attr("y", yy + 7).attr("font-size", 21).text(lab);
		});
	}
	if (p.legend === "orb") {
		var ox = c.x1 - 174, oy = r.y0 + 13.5;
		var og = svg.append("g");
		og.append("rect").attr("x", ox).attr("y", oy).attr("width", 161).attr("height", 190)
			.attr("fill", "#fff").attr("stroke", "#222").attr("stroke-width", 1.2);
		var ost = [st_dz2, st_dxz, st_dyz, st_dx2, st_dxy];
		orbital_labels.forEach(function(parts, k) {
			var yy = oy + 22.5 + k * 36;
			og.append("line").attr("x1", ox + 16).attr("x2", ox + 96).attr("y1", yy).attr("y2", yy)
				.attr("stroke", ost[k].color).attr("stroke-width", ost[k].width)
				.attr("stroke-dasharray", ost[k].dash ? "17,15" : null);
			var t = og.append("text").attr("x", ox + 105).attr("y", yy + 5);
			var cur = 0;
			parts.forEach(function(pt) {
				var target = pt[1] === "s" ? 9 : (pt[1] === "p" ? -1 : 0);
				var size = pt[1] === "b" ? 21 : (pt[1] === "s" ? 16 : 10);
				t.append("tspan").attr("dy", target - cur).attr("font-size", size).text(pt[0]);
				cur = target;
			});
		});
	}
});

// column titles
[336, 878].forEach(function(cx, k) {
	svg.append("text").attr("x", cx).attr("y", 33).attr("text-anchor", "middle")
		.attr("font-size", 27).text(col_titles[k]);
});
// row titles
[142, 368, 605].forEach(function(cy, k) {
	svg.append("text").attr("transform", "translate(31," + cy + ") rotate(-90)")
		.attr("text-anchor", "middle").attr("font-size", 23).text(row_titles[k]);
});
// x titles
[308, 862].forEach(function(cx) {
	svg.append("text").attr("x", cx).attr("y", 763).attr("text-anchor", "middle")
		.attr("font-size", 21).text("Energy (eV)");
});
</script>
</body>
</html>
